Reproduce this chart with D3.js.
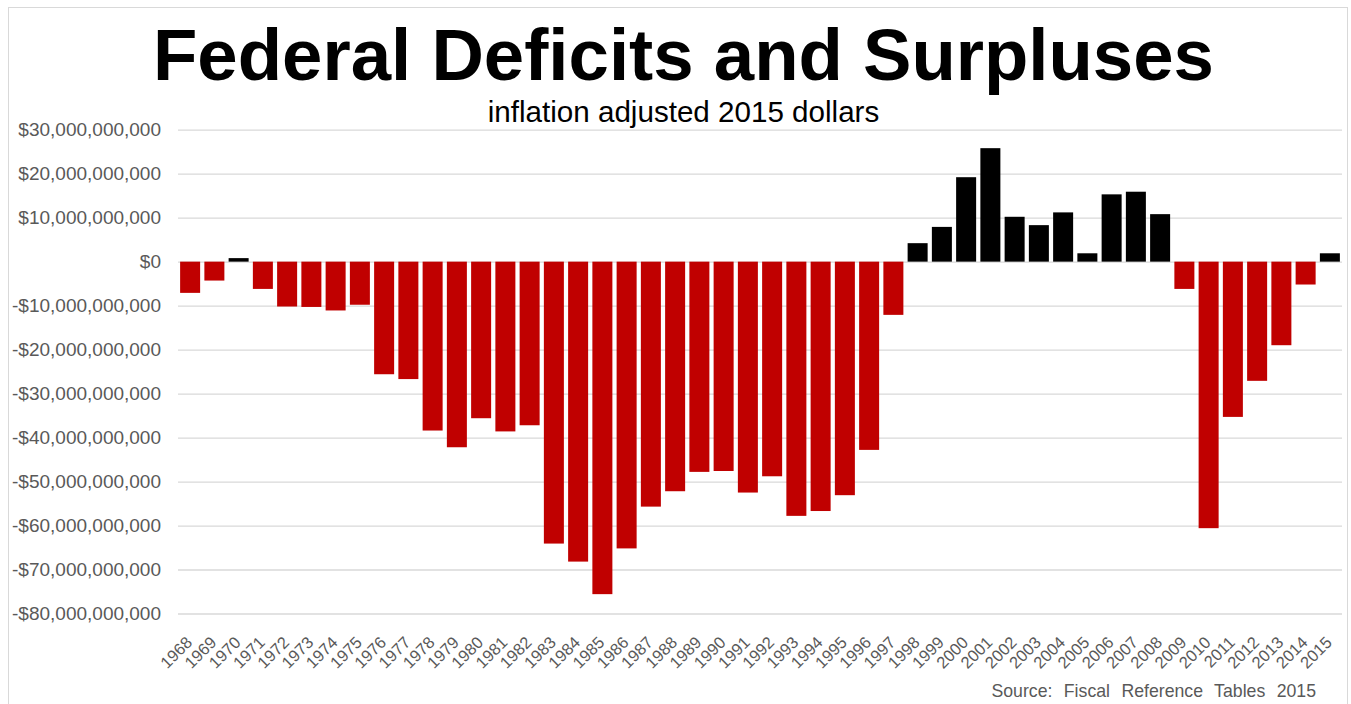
<!DOCTYPE html>
<html>
<head>
<meta charset="utf-8">
<script src="https://cdn.jsdelivr.net/npm/d3@7"></script>
<style>
  html, body { margin: 0; padding: 0; background: #ffffff; }
  svg { display: block; }
  text { font-family: "Liberation Sans", Arial, sans-serif; }
</style>
</head>
<body>
<svg id="chart" width="1351" height="704"></svg>
<script>
// Fiscal years shown on the category axis
const years = [
  "1968","1969","1970","1971","1972","1973","1974","1975","1976","1977",
  "1978","1979","1980","1981","1982","1983","1984","1985","1986","1987",
  "1988","1989","1990","1991","1992","1993","1994","1995","1996","1997",
  "1998","1999","2000","2001","2002","2003","2004","2005","2006","2007",
  "2008","2009","2010","2011","2012","2013","2014","2015"
];

// Surplus (+) or deficit (-) per year, billions of 2015 dollars
const balanceBillions = [
  -7.1, -4.3, 0.8, -6.2, -10.2, -10.3, -11.1, -9.8, -25.6, -26.7,
  -38.4, -42.2, -35.6, -38.6, -37.2, -64.1, -68.2, -75.6, -65.2, -55.7,
  -52.2, -47.8, -47.6, -52.5, -48.8, -57.8, -56.7, -53.1, -42.8, -12.1,
  4.2, 7.9, 19.2, 25.8, 10.2, 8.3, 11.2, 1.9, 15.3, 15.9,
  10.8, -6.2, -60.6, -35.3, -27.1, -19.0, -5.2, 1.9
];

// Value-axis ticks, in dollars
const yTicks = [30e9, 20e9, 10e9, 0, -10e9, -20e9, -30e9, -40e9, -50e9, -60e9, -70e9, -80e9];

const titleText = "Federal Deficits and Surpluses";
const subtitleText = "inflation adjusted 2015 dollars";
const sourceText = "Source: Fiscal Reference Tables 2015";

const data = years.map((y, i) => ({ year: y, value: balanceBillions[i] * 1e9 }));

const svg = d3.select("#chart");
const plot = { left: 178, right: 1342, top: 129.7, bottom: 613.5 };

// Outer chart frame
svg.append("rect")
  .attr("x", 8.5).attr("y", 7.5)
  .attr("width", 1339).attr("height", 720)
  .attr("fill", "none").attr("stroke", "#d9d9d9").attr("stroke-width", 1);

const x = d3.scaleBand()
  .domain(years)
  .range([plot.left, plot.right])
  .paddingInner(0.175)
  .paddingOuter(0.0875);

const y = d3.scaleLinear()
  .domain([-80e9, 30e9])
  .range([plot.bottom, plot.top]);

const money = d3.format(",");
const fmt = v => (v < 0 ? "-$" : "$") + money(Math.abs(v));

// Horizontal gridlines
const grid = svg.append("g")
  .attr("transform", `translate(${plot.left},0)`)
  .call(d3.axisLeft(y).tickValues(yTicks).tickSize(-(plot.right - plot.left)).tickFormat(""));
grid.select(".domain").remove();
grid.selectAll(".tick line").attr("stroke", "#d9d9d9").attr("stroke-width", 1.3);

// Value axis labels
const yAxis = svg.append("g")
  .attr("transform", `translate(161,0)`)
  .call(d3.axisLeft(y).tickValues(yTicks).tickSize(0).tickPadding(0).tickFormat(fmt));
yAxis.select(".domain").remove();
yAxis.selectAll(".tick text")
  .attr("fill", "#595959")
  .style("font-size", "19px")
  .style("font-family", "'Liberation Sans', Arial, sans-serif");

// Bars
svg.append("g").selectAll("rect")
  .data(data)
  .join("rect")
  .attr("x", d => x(d.year))
  .attr("width", x.bandwidth())
  .attr("y", d => y(Math.max(0, d.value)))
  .attr("height", d => Math.abs(y(d.value) - y(0)))
  .attr("fill", d => d.value >= 0 ? "#000000" : "#c00000");

// Category axis labels, rotated
const xAxis = svg.append("g")
  .attr("transform", `translate(0,${plot.bottom})`)
  .call(d3.axisBottom(x).tickSize(0).tickPadding(0));
xAxis.select(".domain").remove();
xAxis.selectAll(".tick text")
  .attr("fill", "#595959")
  .style("font-size", "16.5px")
  .style("font-family", "'Liberation Sans', Arial, sans-serif")
  .attr("text-anchor", "end")
  .attr("dy", null)
  .attr("y", null)
  .attr("transform", "translate(3,30) rotate(-45)");

// Titles
svg.append("text")
  .attr("x", 683.5).attr("y", 80)
  .attr("text-anchor", "middle")
  .style("font-size", "72.6px").style("font-weight", "bold")
  .attr("fill", "#000000")
  .text(titleText);

svg.append("text")
  .attr("x", 683.5).attr("y", 122)
  .attr("text-anchor", "middle")
  .style("font-size", "29.6px")
  .attr("fill", "#000000")
  .text(subtitleText);

svg.append("text")
  .attr("x", 1316).attr("y", 697)
  .attr("text-anchor", "end")
  .style("font-size", "17.7px")
  .style("word-spacing", "6.5px")
  .attr("fill", "#595959")
  .text(sourceText);
</script>
</body>
</html>
